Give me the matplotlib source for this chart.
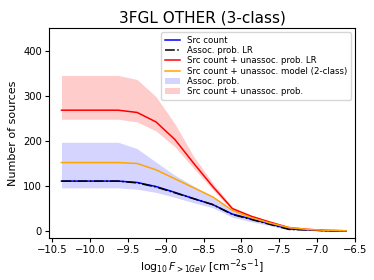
import matplotlib
matplotlib.use('Agg')
import matplotlib.pyplot as plt
import numpy as np

# log10 flux bin centres
flux = [-10.38, -10.13, -9.88, -9.63, -9.38, -9.13, -8.88, -8.63,
        -8.38, -8.12, -7.87, -7.62, -7.37, -7.12, -6.87, -6.62]

src_count = [111, 111, 111, 111, 108, 99, 86, 72, 59, 38, 27, 16, 5, 3, 1, 0]
assoc_lr = [111, 111, 111, 111, 107, 98, 85, 72, 59, 37, 26, 15, 4, 3, 1, 0]
assoc_lo = [96, 96, 96, 96, 93, 86, 75, 63, 52, 31, 21, 12, 3, 2, 0, 0]
assoc_hi = [197, 197, 197, 197, 183, 153, 124, 100, 76, 45, 31, 19, 7, 4, 2, 1]

unassoc_lr = [268, 268, 268, 268, 263, 242, 203, 150, 99, 50, 33, 20, 8, 4, 2, 1]
unassoc_lo = [248, 248, 248, 248, 242, 222, 187, 139, 92, 46, 30, 18, 7, 3, 1, 0]
unassoc_hi = [345, 345, 345, 345, 336, 298, 238, 165, 107, 54, 36, 22, 9, 5, 2, 1]

model_2class = [152, 152, 152, 152, 150, 136, 116, 96, 76, 46, 30, 18, 8, 4, 2, 1]


def main():
    fig, ax = plt.subplots(figsize=(3.74, 2.8), dpi=100)

    ax.plot(flux, src_count, color='blue', lw=1.1, label='Src count')
    ax.plot(flux, assoc_lr, color='black', lw=1.1, ls='-.', label='Assoc. prob. LR')
    ax.plot(flux, unassoc_lr, color='red', lw=1.1, label='Src count + unassoc. prob. LR')
    ax.plot(flux, model_2class, color='orange', lw=1.1,
            label='Src count + unassoc. model (2-class)')
    ax.fill_between(flux, assoc_lo, assoc_hi, color='blue', alpha=0.17, lw=0,
                    label='Assoc. prob.')
    ax.fill_between(flux, unassoc_lo, unassoc_hi, color='red', alpha=0.2, lw=0,
                    label='Src count + unassoc. prob.')

    ax.set_xlim(-10.545, -6.5)
    ax.set_ylim(-15, 450)
    ax.set_xticks(np.arange(-10.5, -6.4, 0.5))
    ax.set_yticks([0, 100, 200, 300, 400])
    ax.tick_params(labelsize=7.2, length=3, pad=2)
    ax.set_xlabel(r'$\log_{10}F_{>1GeV}$ [cm$^{-2}$s$^{-1}$]', fontsize=7.8, labelpad=2)
    ax.set_ylabel('Number of sources', fontsize=8, labelpad=4)
    ax.set_title('3FGL OTHER (3-class)', fontsize=11, pad=4)
    ax.legend(fontsize=6.2, loc='upper right', handlelength=1.8,
              labelspacing=0.15, borderpad=0.4)

    fig.subplots_adjust(left=0.131, right=0.949, bottom=0.15, top=0.9)
    fig.savefig('out.png', dpi=100)


if __name__ == '__main__':
    main()
